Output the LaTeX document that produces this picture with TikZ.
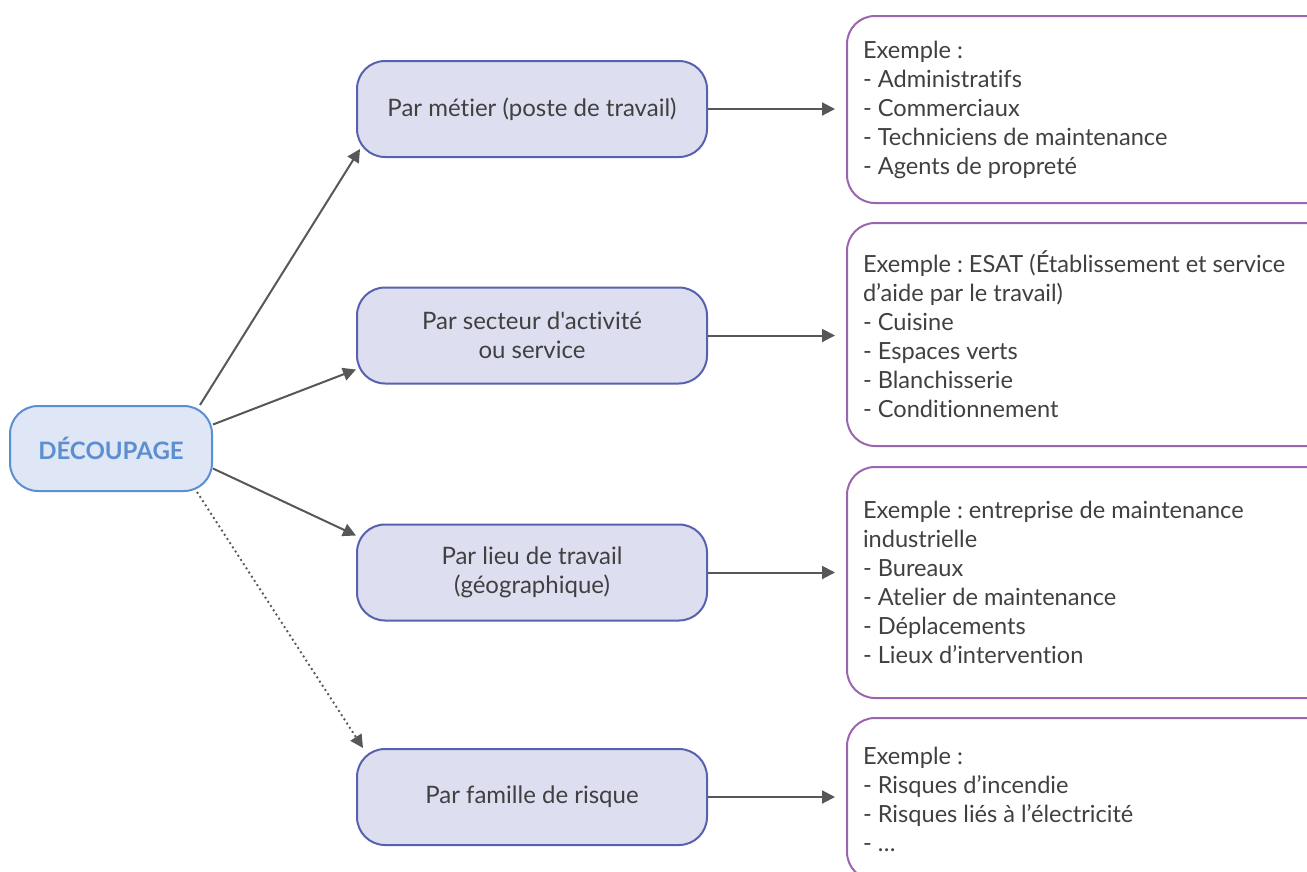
\documentclass[tikz,border=0pt]{standalone}
\usepackage{fontspec}
\setmainfont{Lato}[Ligatures={TeXOff,NoCommon}]
\usetikzlibrary{arrows.meta}
\definecolor{txt}{HTML}{404040}
\definecolor{arr}{HTML}{575757}
\definecolor{dfill}{HTML}{DFE6F6}
\definecolor{dline}{HTML}{5B8FD0}
\definecolor{mfill}{HTML}{DDDEF0}
\definecolor{mline}{HTML}{5861AE}
\definecolor{rline}{HTML}{9B65B0}
\tikzset{
  rootbox/.style={draw=dline, fill=dfill, line width=2pt, rounded corners=28pt,
    minimum width=202pt, minimum height=85pt, text=dline,
    font=\fontsize{24}{29}\selectfont\bfseries\frenchspacing},
  midbox/.style={draw=mline, fill=mfill, line width=2pt, rounded corners=28pt,
    minimum width=350pt, minimum height=96pt, text=txt, align=center,
    font=\fontsize{24}{29}\selectfont\frenchspacing},
  exbox/.style={draw=rline, line width=2pt, rounded corners=28pt, anchor=north west,
    text width=470pt, inner xsep=16pt, align=left, text=txt,
    font=\fontsize{23.6}{29}\selectfont\frenchspacing,
    execute at begin node={\spaceskip=0pt\xspaceskip=0pt\relax}},
  conn/.style={draw=arr, line width=2pt, -{Triangle[length=13pt,width=13pt]}},
  dotconn/.style={draw=arr, line width=1.9pt, dash pattern=on 1.9pt off 3.1pt,
    -{Triangle[length=13pt,width=13pt]}}
}
\begin{document}
\begin{tikzpicture}[x=1pt,y=-1pt]
\useasboundingbox (0,0) rectangle (1307,871);
\node[rootbox] (d) at (111,448.5) {DÉCOUPAGE};
\node[midbox] (m1) at (532,109) {Par métier (poste de travail)};
\node[midbox] (m2) at (532,335.5) {Par secteur d'activité\\ou service};
\node[midbox] (m3) at (532,572.5) {Par lieu de travail\\(géographique)};
\node[midbox] (m4) at (532,797) {Par famille de risque};
\node[exbox, minimum height=187pt] (r1) at (846,15) {Exemple :\\- Administratifs\\- Commerciaux\\- Techniciens de maintenance\\- Agents de propreté};
\node[exbox, minimum height=223pt] (r2) at (846,222) {Exemple : ESAT (Établissement et service\\d’aide par le travail)\\- Cuisine\\- Espaces verts\\- Blanchisserie\\- Conditionnement};
\node[exbox, minimum height=231pt] (r3) at (846,466) {Exemple : entreprise de maintenance\\industrielle\\- Bureaux\\- Atelier de maintenance\\- Déplacements\\- Lieux d’intervention};
\node[exbox, minimum height=162pt] (r4) at (846,717) {Exemple :\\- Risques d’incendie\\- Risques liés à l’électricité\\- …};
\draw[conn] ([xshift=-13pt]d.north east) -- ([xshift=4pt,yshift=9pt]m1.south west);
\draw[conn] ([yshift=24pt]d.east) -- ([yshift=15pt]m2.south west);
\draw[conn] ([yshift=-20pt]d.east) -- ([yshift=-12pt]m3.north west);
\draw[dotconn] ([xshift=-16pt]d.south east) -- ([xshift=7pt]m4.north west);
\foreach \i in {1,2,3,4}{
  \draw[conn, shorten >=11pt] (m\i.east) -- (m\i.east -| r\i.west);
}
\end{tikzpicture}
\end{document}
